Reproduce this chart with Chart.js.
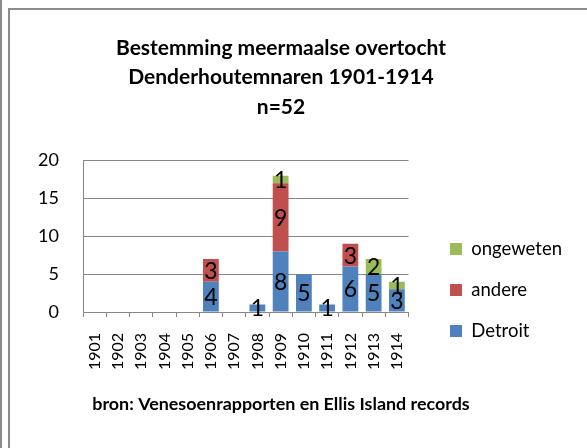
<!DOCTYPE html>
<html>
<head>
<meta charset="utf-8">
<script src="https://cdn.jsdelivr.net/npm/chart.js@4.4.1/dist/chart.umd.min.js"></script>
<style>
  html, body { margin: 0; padding: 0; background: #fff; overflow: hidden; }
  body { width: 587px; height: 448px; position: relative; }
  #wrap { position: absolute; left: -32px; top: 0; width: 626px; height: 448px; }
  .line-outer { position: absolute; left: 0; top: 0; width: 2px; height: 448px; background: #8c8c8c; }
  .frame { position: absolute; left: 8px; top: 8px; width: 600px; height: 460px;
           border-left: 2px solid #8c8c8c; border-top: 2px solid #8c8c8c; }
</style>
</head>
<body>
<div class="line-outer"></div>
<div class="frame"></div>
<div id="wrap"><canvas id="bestemmingChart" width="626" height="448"></canvas></div>
<script>
const jaren = ['1901','1902','1903','1904','1905','1906','1907','1908','1909','1910','1911','1912','1913','1914'];
const detroit   = [0,0,0,0,0,4,0,1,8,5,1,6,5,3];
const andere    = [0,0,0,0,0,3,0,0,9,0,0,3,0,0];
const ongeweten = [0,0,0,0,0,0,0,0,1,0,0,0,2,1];
const yTicks = [0, 5, 10, 15, 20];

const grijs = '#868686';

// getal midden in elk stuk van de staaf
const waardeLabels = {
    id: 'waardeLabels',
    afterDatasetsDraw(chart) {
        const ctx = chart.ctx;
        ctx.save();
        ctx.font = '23px Lato';
        ctx.fillStyle = '#000';
        ctx.textAlign = 'center';
        ctx.textBaseline = 'middle';
        chart.data.datasets.forEach((ds, i) => {
            const meta = chart.getDatasetMeta(i);
            meta.data.forEach((bar, j) => {
                const v = ds.data[j];
                if (!v) return;
                ctx.fillText(String(v), bar.x, (bar.y + bar.base) / 2 + 1);
            });
        });
        ctx.restore();
    }
};

const ctx = document.getElementById('bestemmingChart').getContext('2d');
const myChart = new Chart(ctx, {
    type: 'bar',
    data: {
        labels: jaren,
        datasets: [
            { label: 'Detroit', data: detroit, backgroundColor: '#4F81BD' },
            { label: 'andere', data: andere, backgroundColor: '#C0504D' },
            { label: 'ongeweten', data: ongeweten, backgroundColor: '#9BBB59' }
        ]
    },
    options: {
        responsive: false,
        animation: false,
        categoryPercentage: 1,
        barPercentage: 0.68,
        layout: {
            padding: { left: 22, right: 22, top: 0, bottom: 0 }
        },
        scales: {
            x: {
                stacked: true,
                offset: true,
                afterFit(scale) { scale.height = 62; },
                grid: { display: true, drawOnChartArea: false, offset: true, tickLength: 5, color: grijs },
                border: { color: grijs },
                ticks: { color: '#000', font: { family: 'Lato', size: 16 }, minRotation: 90, maxRotation: 90, padding: 16, autoSkip: false }
            },
            y: {
                stacked: true,
                min: 0,
                max: 20,
                afterBuildTicks(scale) { scale.ticks = yTicks.map(v => ({ value: v })); },
                afterFit(scale) { scale.width = 93; },
                grid: { color: grijs, drawTicks: false },
                border: { color: grijs },
                ticks: { color: '#000', font: { family: 'Lato', size: 18 }, padding: 24 }
            },
            ruimte: {
                position: 'right',
                display: false,
                min: 0, max: 1,
                afterFit(scale) { scale.width = 19; }
            }
        },
        plugins: {
            title: {
                display: true,
                text: ['Bestemming meermaalse overtocht', 'Denderhoutemnaren 1901-1914', 'n=52'],
                color: '#000',
                font: { family: 'Lato', size: 21, weight: 'bold', lineHeight: 1.405 },
                padding: { top: 33, bottom: 39 }
            },
            subtitle: {
                display: true,
                position: 'bottom',
                text: 'bron: Venesoenrapporten en Ellis Island records',
                color: '#000',
                font: { family: 'Lato', size: 17.9, weight: 'bold', lineHeight: 1 },
                padding: { top: 21, bottom: 35.1 }
            },
            legend: {
                position: 'right',
                reverse: true,
                title: { display: true, text: '', font: { size: 10, lineHeight: 1.2 }, padding: { top: 120, bottom: 0 } },
                labels: {
                    color: '#000',
                    font: { family: 'Lato', size: 18.5 },
                    boxWidth: 12,
                    boxHeight: 12,
                    padding: 22.5
                }
            },
            tooltip: { enabled: false }
        }
    },
    plugins: [waardeLabels]
});
</script>
</body>
</html>
